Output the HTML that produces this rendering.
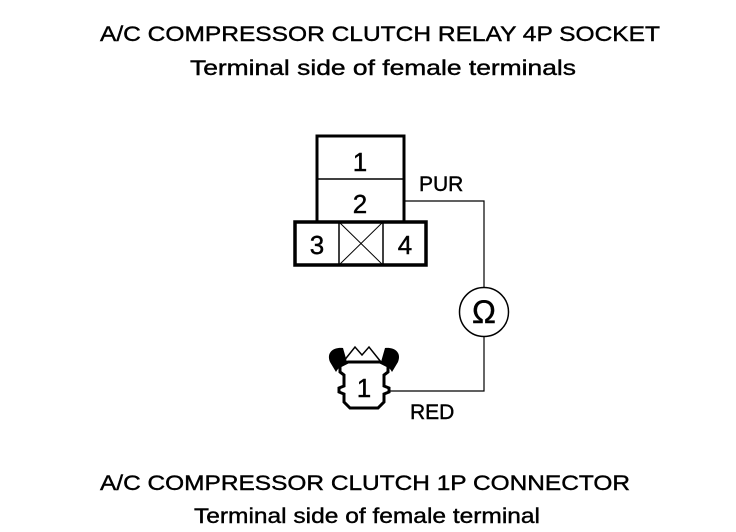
<!DOCTYPE html>
<html><head><style>
body{margin:0;width:736px;height:532px;background:#fff;overflow:hidden}
svg{position:absolute;left:0;top:0}
text{font-family:"Liberation Sans",Arial,sans-serif;fill:#000;stroke:#000;stroke-width:0.4}
</style></head><body>
<svg width="736" height="532" viewBox="0 0 736 532">
<text x="380" y="41" font-size="21" text-anchor="middle" textLength="560" lengthAdjust="spacingAndGlyphs">A/C COMPRESSOR CLUTCH RELAY 4P SOCKET</text>
<text x="383" y="75" font-size="21" text-anchor="middle" textLength="386" lengthAdjust="spacingAndGlyphs">Terminal side of female terminals</text>
<text x="365" y="490" font-size="21" text-anchor="middle" textLength="530" lengthAdjust="spacingAndGlyphs">A/C COMPRESSOR CLUTCH 1P CONNECTOR</text>
<text x="367" y="523" font-size="21" text-anchor="middle" textLength="346" lengthAdjust="spacingAndGlyphs">Terminal side of female terminal</text>
<g fill="none" stroke="#000">
<rect x="317" y="136" width="87" height="86" stroke-width="3"/>
<line x1="317" y1="179" x2="404" y2="179" stroke-width="1.5"/>
<rect x="295" y="222" width="131" height="43" stroke-width="3.5"/>
<line x1="339" y1="222" x2="339" y2="265" stroke-width="1.5"/>
<line x1="383" y1="222" x2="383" y2="265" stroke-width="1.5"/>
<line x1="339" y1="222" x2="383" y2="265" stroke-width="1"/>
<line x1="383" y1="222" x2="339" y2="265" stroke-width="1"/>
<polyline points="405,201 484,201 484,287" stroke-width="1.2"/>
<circle cx="484" cy="312" r="24.5" stroke-width="1.5"/>
<polyline points="484,337 484,391 388,391" stroke-width="1.2"/>
<path d="M344,375 L340,372 L340,366 L348,362 L380,362 L388,366 L388,372 L384,375 L384,386 L389,388 L389,392 L384,394 L384,402 L378,408 L350,408 L344,402 L344,394 L339,392 L339,388 L344,386 Z" stroke-width="3"/>
<polyline points="343,362 355,347 362,355 369,347 381,362" stroke-width="1.5"/>
</g>
<path d="M330,362 C326,352 334,347 343,348 L347,362 C344,365 339,366 336,372 Z" fill="#000"/>
<path d="M398,362 C402,352 394,347 385,348 L381,362 C384,365 389,366 392,372 Z" fill="#000"/>
<text x="360" y="171" font-size="26" text-anchor="middle">1</text>
<text x="360" y="213" font-size="26" text-anchor="middle">2</text>
<text x="317" y="254" font-size="26" text-anchor="middle">3</text>
<text x="405" y="254" font-size="26" text-anchor="middle">4</text>
<text x="419" y="191" font-size="21">PUR</text>
<text x="410" y="419" font-size="21">RED</text>
<text x="364" y="397" font-size="26" text-anchor="middle">1</text>
<text x="484" y="323" font-size="32" text-anchor="middle">Ω</text>
</svg>
</body></html>
